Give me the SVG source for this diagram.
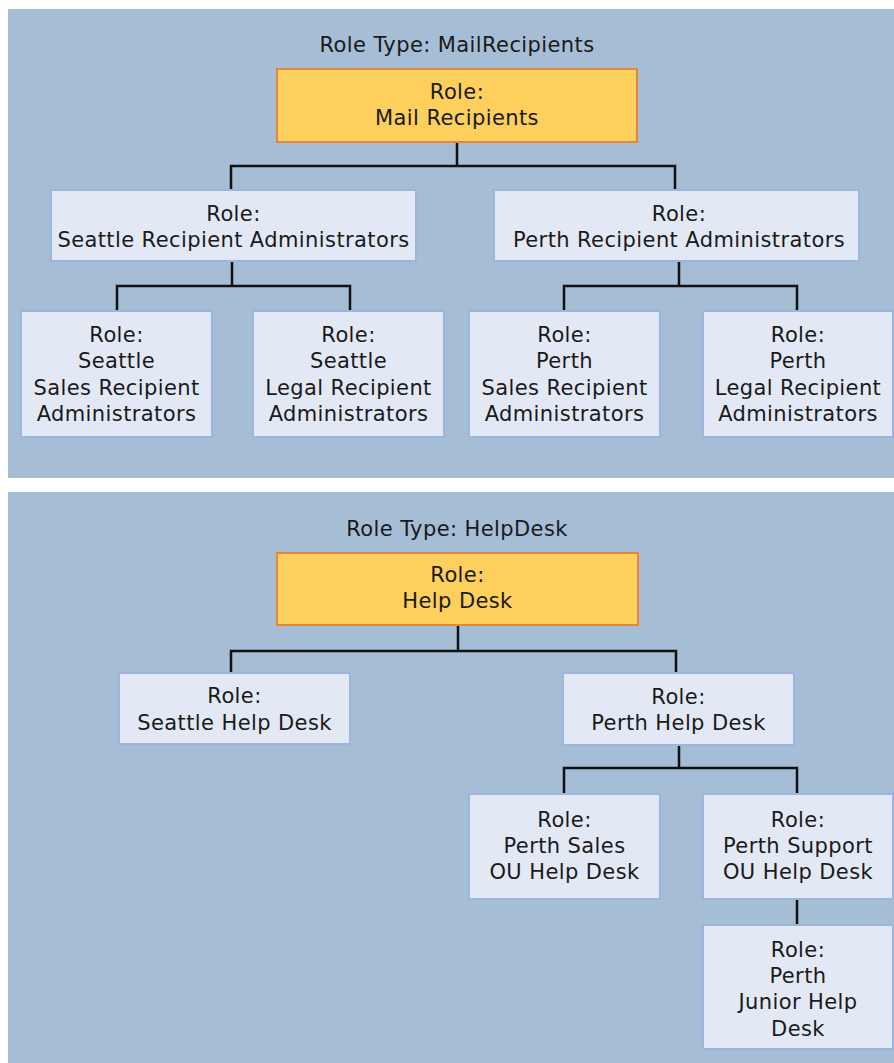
<svg xmlns="http://www.w3.org/2000/svg" width="894" height="1063" viewBox="0 0 894 1063">
<style>
.panel{fill:#a5bdd5}
.node{fill:#e2e9f4;stroke:#9db4df;stroke-width:2}
.root{fill:#fdd05e;stroke:#e3883a;stroke-width:2}
.t{font-family:"DejaVu Sans",Verdana,sans-serif;font-size:21px;letter-spacing:0.4px;fill:#1a1a1a;text-anchor:middle}
.c{fill:none;stroke:#111;stroke-width:2.5}
</style>
<rect class="panel" x="8" y="9" width="886" height="469"/>
<rect class="panel" x="8" y="492" width="886" height="571"/>
<text class="t" x="457" y="52">Role Type: MailRecipients</text>
<text class="t" x="457" y="536">Role Type: HelpDesk</text>
<g id="connectors">
<path class="c" d="M457,142 V166 M231,190 V166 H675 V190"/>
<path class="c" d="M232,261 V286 M117,311 V286 H350 V311"/>
<path class="c" d="M679,261 V286 M564,311 V286 H797 V311"/>
<path class="c" d="M458,625 V651 M231,673 V651 H676 V673"/>
<path class="c" d="M679,745 V768 M564,794 V768 H797 V794"/>
<path class="c" d="M797,899 V925"/>
</g>
<g id="mail-recipients"><rect class="root" x="277" y="69" width="360" height="73"/><text class="t" x="457" y="99">Role:</text><text class="t" x="457" y="125">Mail Recipients</text></g>
<g id="seattle-recipient-admins"><rect class="node" x="51" y="190" width="365" height="71"/><text class="t" x="233.5" y="221">Role:</text><text class="t" x="233.5" y="247">Seattle Recipient Administrators</text></g>
<g id="perth-recipient-admins"><rect class="node" x="494" y="190" width="365" height="71"/><text class="t" x="679" y="221">Role:</text><text class="t" x="679" y="247">Perth Recipient Administrators</text></g>
<g id="seattle-sales"><rect class="node" x="21" y="311" width="191" height="126"/><text class="t" x="116.5" y="342">Role:</text><text class="t" x="116.5" y="368">Seattle</text><text class="t" x="116.5" y="395">Sales Recipient</text><text class="t" x="116.5" y="421">Administrators</text></g>
<g id="seattle-legal"><rect class="node" x="253" y="311" width="191" height="126"/><text class="t" x="348.5" y="342">Role:</text><text class="t" x="348.5" y="368">Seattle</text><text class="t" x="348.5" y="395">Legal Recipient</text><text class="t" x="348.5" y="421">Administrators</text></g>
<g id="perth-sales"><rect class="node" x="469" y="311" width="191" height="126"/><text class="t" x="564.5" y="342">Role:</text><text class="t" x="564.5" y="368">Perth</text><text class="t" x="564.5" y="395">Sales Recipient</text><text class="t" x="564.5" y="421">Administrators</text></g>
<g id="perth-legal"><rect class="node" x="703" y="311" width="190" height="126"/><text class="t" x="798" y="342">Role:</text><text class="t" x="798" y="368">Perth</text><text class="t" x="798" y="395">Legal Recipient</text><text class="t" x="798" y="421">Administrators</text></g>
<g id="help-desk"><rect class="root" x="277" y="553" width="361" height="72"/><text class="t" x="457.5" y="582">Role:</text><text class="t" x="457.5" y="608">Help Desk</text></g>
<g id="seattle-help-desk"><rect class="node" x="119" y="673" width="231" height="71"/><text class="t" x="234.5" y="703">Role:</text><text class="t" x="234.5" y="730">Seattle Help Desk</text></g>
<g id="perth-help-desk"><rect class="node" x="563" y="673" width="231" height="72"/><text class="t" x="678.5" y="704">Role:</text><text class="t" x="678.5" y="730">Perth Help Desk</text></g>
<g id="perth-sales-ou"><rect class="node" x="469" y="794" width="191" height="105"/><text class="t" x="564.5" y="827">Role:</text><text class="t" x="564.5" y="853">Perth Sales</text><text class="t" x="564.5" y="879">OU Help Desk</text></g>
<g id="perth-support-ou"><rect class="node" x="703" y="794" width="190" height="105"/><text class="t" x="798" y="827">Role:</text><text class="t" x="798" y="853">Perth Support</text><text class="t" x="798" y="879">OU Help Desk</text></g>
<g id="perth-junior"><rect class="node" x="703" y="925" width="190" height="124"/><text class="t" x="798" y="957">Role:</text><text class="t" x="798" y="983">Perth</text><text class="t" x="798" y="1009">Junior Help</text><text class="t" x="798" y="1036">Desk</text></g>
</svg>
